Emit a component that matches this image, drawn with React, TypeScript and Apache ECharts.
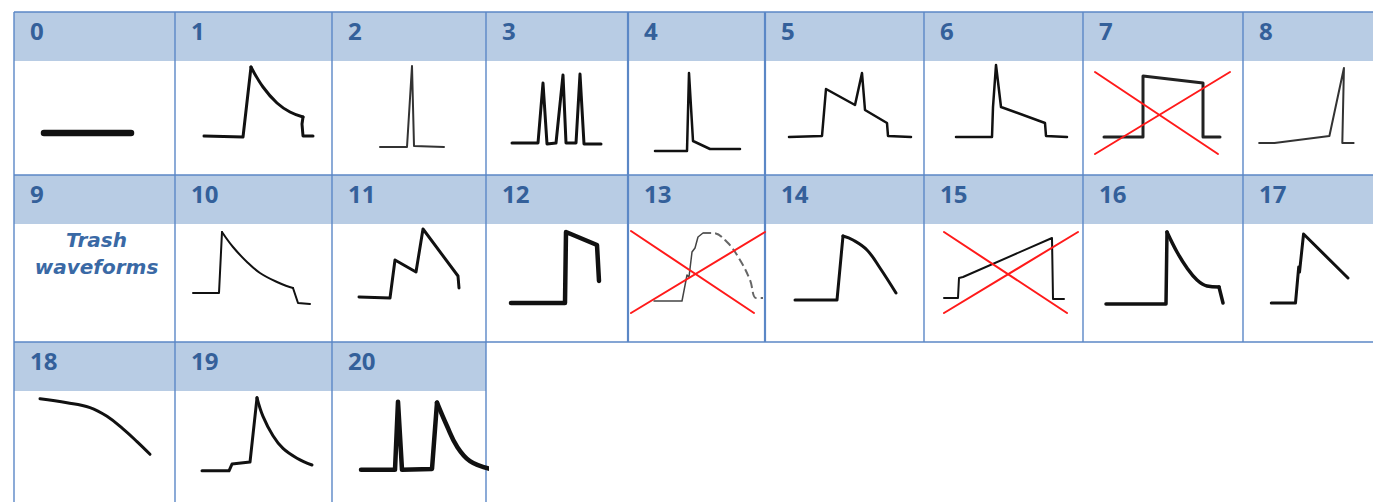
import React, { useEffect, useRef } from "react";
import * as echarts from "echarts";

// ---- data: cell labels and waveform samples (t, amplitude) ----
const cellLabels = ["0","1","2","3","4","5","6","7","8","9","10","11","12","13","14","15","16","17","18","19","20"];
const trashLines = ["Trash", "waveforms"];

const wave0 = [[30, 42], [117, 42]];
const wave1 = [[29, 39], [68, 38], [76, 108], [88, 88], [102, 72], [115, 63], [128, 58], [127, 51], [128, 39], [138, 39]];
const wave2 = [[48, 28], [75, 28], [80, 109], [82, 29], [112, 28]];
const wave3 = [[26, 32], [52, 32], [57, 92], [61, 31], [70, 32], [77, 100], [80, 32], [90, 32], [94, 101], [98, 31], [115, 31]];
const wave4 = [[27, 24], [59, 24], [61, 102], [65, 34], [82, 26], [112, 26]];
const wave5 = [[24, 38], [57, 39], [61, 86], [90, 70], [97, 102], [100, 65], [122, 52], [123, 39], [146, 38]];
const wave6 = [[32, 38], [68, 38], [69, 68], [72, 110], [77, 68], [121, 52], [122, 39], [143, 38]];
const wave7 = [[21, 38], [60, 38], [60, 99], [120, 92], [120, 38], [137, 38]];
const wave8 = [[20, 32], [39, 32], [107, 39], [125, 107], [123, 32], [137, 32]];
const wave10 = [[18, 49], [44, 49], [47, 110], [58, 95], [72, 80], [85, 69], [102, 60], [118, 54], [123, 39], [135, 38]];
const wave11 = [[27, 45], [58, 44], [63, 82], [84, 70], [91, 113], [126, 66], [127, 54]];
const wave12 = [[25, 39], [79, 39], [80, 110], [111, 97], [113, 61]];
const wave13Solid = [[26, 41], [54, 41], [59, 67], [61, 65], [64, 90], [67, 94], [70, 105], [75, 109]];
const wave13Dashed = [[75, 109], [85, 109], [99, 100], [112, 82], [122, 62], [128, 44], [135, 44]];
const wave14 = [[30, 42], [72, 42], [78, 106], [88, 102], [102, 92], [115, 74], [131, 49]];
const wave15 = [[20, 44], [34, 44], [35, 64], [39, 65], [128, 104], [129, 43], [140, 43]];
const wave16 = [[23, 38], [83, 38], [84, 110], [94, 90], [104, 74], [114, 62], [124, 56], [136, 55], [140, 39]];
const wave17 = [[35, 39], [65, 39], [69, 75], [70, 70], [75, 108], [130, 64]];
const wave18 = [[26, 106], [53, 102], [76, 97], [93, 88], [109, 75], [123, 62], [136, 49]];
const wave19 = [[27, 32], [54, 32], [57, 39], [75, 41], [82, 107], [88, 88], [98, 68], [108, 55], [122, 45], [137, 38]];
const wave20 = [[29, 33], [63, 33], [66, 103], [70, 33], [100, 34], [105, 102], [115, 78], [125, 57], [138, 42], [158, 34]];

const cross7 = [[[12, 103], [135, 21]], [[12, 21], [147, 103]]];
const cross13 = [[[3, 111], [126, 29]], [[3, 29], [137, 110]]];
const cross15 = [[[20, 110], [143, 29]], [[20, 29], [154, 110]]];

// ---- layout ----
const COLS = [14, 175, 332, 486, 628, 765, 924, 1083, 1243, 1404];
const ROWS = [
  { top: 12, head: 61, bottom: 175 },
  { top: 175, head: 224, bottom: 342 },
  { top: 342, head: 391, bottom: 505 },
];
const PAGE_W = 1373;
const PAGE_H = 502;
const HEADER_FILL = "#b8cce4";
const BORDER = "#5b87c6";
const TEXT_BLUE = "#34609a";
const INK = "#111111";

// curve: [from, to] indices of the part of the trace drawn as a smooth curve
type Trace = { data: number[][]; width: number; color: string; type?: string; curve?: [number, number] };
type Cell = { n: number; traces: Trace[] };

const crossTraces = (c: number[][][]): Trace[] =>
  c.map((d) => ({ data: d, width: 2, color: "#ff1a1a" }));

const cells: Cell[] = [
  { n: 0, traces: [{ data: wave0, width: 6.5, color: INK }] },
  { n: 1, traces: [{ data: wave1, width: 3, color: INK, curve: [2, 6] }] },
  { n: 2, traces: [{ data: wave2, width: 2, color: "#333" }] },
  { n: 3, traces: [{ data: wave3, width: 3, color: INK }] },
  { n: 4, traces: [{ data: wave4, width: 2.5, color: INK }] },
  { n: 5, traces: [{ data: wave5, width: 2.5, color: INK }] },
  { n: 6, traces: [{ data: wave6, width: 2.5, color: INK }] },
  { n: 7, traces: [{ data: wave7, width: 3, color: "#222" }, ...crossTraces(cross7)] },
  { n: 8, traces: [{ data: wave8, width: 2, color: "#333" }] },
  { n: 10, traces: [{ data: wave10, width: 2, color: INK, curve: [2, 7] }] },
  { n: 11, traces: [{ data: wave11, width: 3, color: INK }] },
  { n: 12, traces: [{ data: wave12, width: 4.5, color: INK }] },
  {
    n: 13,
    traces: [
      { data: wave13Solid, width: 1.5, color: "#444" },
      { data: wave13Dashed, width: 2, color: "#666", type: "dashed", curve: [0, 6] },
      ...crossTraces(cross13),
    ],
  },
  { n: 14, traces: [{ data: wave14, width: 3, color: INK, curve: [2, 6] }] },
  { n: 15, traces: [{ data: wave15, width: 2, color: INK }, ...crossTraces(cross15)] },
  { n: 16, traces: [{ data: wave16, width: 3.5, color: INK, curve: [2, 7] }] },
  { n: 17, traces: [{ data: wave17, width: 3, color: INK }] },
  { n: 18, traces: [{ data: wave18, width: 3, color: INK, curve: [0, 6] }] },
  { n: 19, traces: [{ data: wave19, width: 3, color: INK, curve: [4, 9] }] },
  { n: 20, traces: [{ data: wave20, width: 4.5, color: INK, curve: [5, 9] }] },
];

function lineSeries(gi: number, data: number[][], t: Trace, smooth: boolean) {
  return {
    type: "line",
    xAxisIndex: gi,
    yAxisIndex: gi,
    data,
    showSymbol: false,
    symbol: "none",
    clip: false,
    silent: true,
    smooth: smooth ? 0.4 : false,
    z: 3,
    lineStyle: {
      width: t.width,
      color: t.color,
      type: t.type || "solid",
      cap: t.type ? "butt" : "round",
      join: "round",
    },
  };
}

function buildOption() {
  const grid: any[] = [];
  const xAxis: any[] = [];
  const yAxis: any[] = [];
  const series: any[] = [];

  cells.forEach((cell, gi) => {
    const r = Math.floor(cell.n / 9);
    const c = cell.n % 9;
    const w = COLS[c + 1] - COLS[c];
    const h = ROWS[r].bottom - ROWS[r].head;
    grid.push({ left: COLS[c], top: ROWS[r].head, width: w, height: h, show: false });
    xAxis.push({ gridIndex: gi, type: "value", min: 0, max: w, show: false });
    yAxis.push({ gridIndex: gi, type: "value", min: 0, max: h, show: false });
    cell.traces.forEach((t) => {
      if (!t.curve) {
        series.push(lineSeries(gi, t.data, t, false));
        return;
      }
      const [a, b] = t.curve;
      if (a > 0) series.push(lineSeries(gi, t.data.slice(0, a + 1), t, false));
      series.push(lineSeries(gi, t.data.slice(a, b + 1), t, true));
      if (b < t.data.length - 1) series.push(lineSeries(gi, t.data.slice(b), t, false));
    });
  });

  const graphics: any[] = [];
  ROWS.forEach((row, r) => {
    const right = r === 2 ? COLS[3] : PAGE_W + 20;
    graphics.push({
      type: "rect",
      shape: { x: COLS[0], y: row.top, width: right - COLS[0], height: row.head - row.top },
      style: { fill: HEADER_FILL },
      z: 0,
      silent: true,
    });
  });
  [ROWS[0].top, ROWS[1].top, ROWS[2].top].forEach((y) => {
    graphics.push({
      type: "line",
      shape: { x1: COLS[0], y1: y, x2: PAGE_W + 20, y2: y },
      style: { stroke: BORDER, lineWidth: 1.6 },
      z: 1,
      silent: true,
    });
  });
  ROWS.forEach((row, r) => {
    const n = r === 2 ? 4 : COLS.length - 1;
    for (let i = 0; i < n; i++) {
      const heavy = r < 2 && (COLS[i] === 628 || COLS[i] === 765);
      graphics.push({
        type: "line",
        shape: { x1: COLS[i], y1: row.top, x2: COLS[i], y2: r === 2 ? PAGE_H + 20 : row.bottom },
        style: { stroke: BORDER, lineWidth: heavy ? 2.2 : 1.4 },
        z: 1,
        silent: true,
      });
    }
  });
  cellLabels.forEach((label, n) => {
    const r = Math.floor(n / 9);
    const c = n % 9;
    graphics.push({
      type: "text",
      x: COLS[c] + 16,
      y: ROWS[r].top + 18,
      z: 2,
      silent: true,
      style: {
        text: label,
        fill: TEXT_BLUE,
        font: '700 24px "Open Sans"',
        textAlign: "left",
        align: "left",
        textVerticalAlign: "middle",
        verticalAlign: "middle",
      },
    });
  });
  trashLines.forEach((t, i) => {
    graphics.push({
      type: "text",
      x: (COLS[0] + COLS[1]) / 2 + 2,
      y: ROWS[1].head + 16 + i * 27,
      z: 2,
      silent: true,
      style: {
        text: t,
        fill: "#3a69a5",
        font: 'italic 700 20px "DejaVu Sans"',
        textAlign: "center",
        align: "center",
        textVerticalAlign: "middle",
        verticalAlign: "middle",
      },
    });
  });

  return {
    animation: false,
    backgroundColor: "#ffffff",
    grid,
    xAxis,
    yAxis,
    series,
    graphic: { elements: graphics },
  };
}

export default function App() {
  const ref = useRef<HTMLDivElement>(null);
  useEffect(() => {
    if (!ref.current) return;
    const chart = echarts.init(ref.current, undefined, { renderer: "svg" });
    chart.setOption(buildOption() as any);
    return () => chart.dispose();
  }, []);
  return (
    <div
      ref={ref}
      style={{ position: "absolute", left: 0, top: 0, width: PAGE_W, height: PAGE_H, overflow: "hidden" }}
    />
  );
}
